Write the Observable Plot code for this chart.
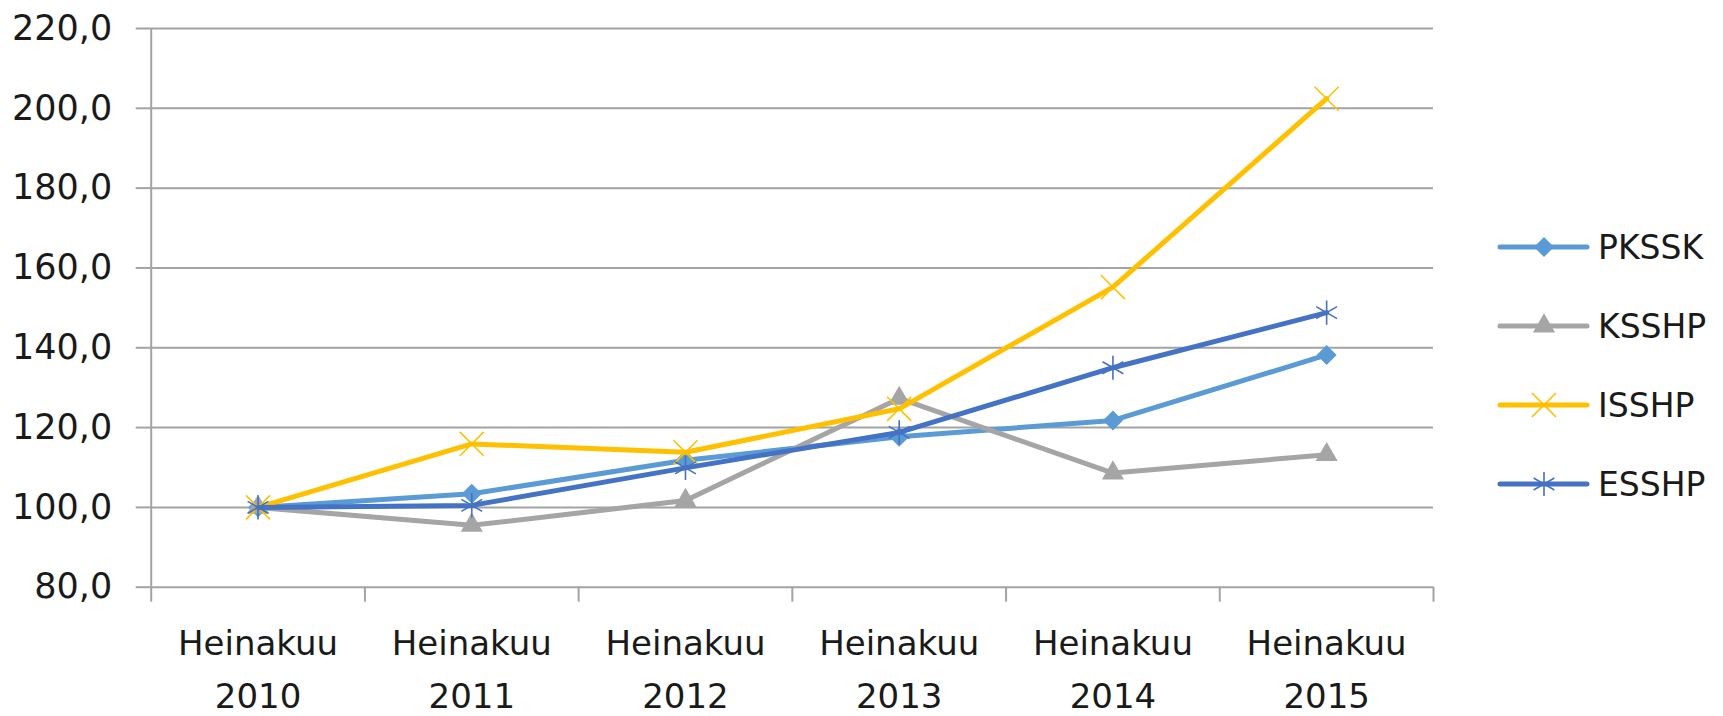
<!DOCTYPE html>
<html>
<head>
<meta charset="utf-8">
<script src="https://cdn.jsdelivr.net/npm/d3@7"></script>
<script src="https://cdn.jsdelivr.net/npm/@observablehq/plot@0.6"></script>
<style>
  body { margin: 0; background: #fff; }
  #wrap { position: relative; width: 1723px; height: 716px; overflow: hidden; }
  #chart { position: absolute; left: 0; top: 0; }
  #legend { position: absolute; left: 1490px; top: 207.5px; font-family: "DejaVu Sans", sans-serif; font-size: 33px; color: #1a1a1a; }
  .row { display: flex; align-items: center; height: 79px; }
</style>
</head>
<body>
<div id="wrap"><div id="chart"></div><div id="legend"></div></div>
<script>
const years = ["2010", "2011", "2012", "2013", "2014", "2015"];
const monthLabel = "Heinakuu";
const seriesNames = ["PKSSK", "KSSHP", "ISSHP", "ESSHP"];
const PKSSK = [100.0, 103.4, 111.8, 117.7, 121.8, 138.2];
const KSSHP = [100.0, 95.5, 101.7, 127.3, 108.6, 113.2];
const ISSHP = [100.0, 115.9, 113.8, 124.7, 155.2, 202.4];
const ESSHP = [100.0, 100.5, 109.9, 118.8, 135.0, 148.8];
const yTicks = [80, 100, 120, 140, 160, 180, 200, 220];

const seriesValues = [PKSSK, KSSHP, ISSHP, ESSHP];
const colors = ["#5B9BD5", "#A5A5A5", "#FFC000", "#4472C4"];
const symbols = ["diamond2", "triangle", "times", "asterisk"];
const radii = [9, 8.2, 11, 11.4];
const filled = [true, true, false, false];
const gridColor = "#a3a3a3";

const idx = years.map((_, i) => i);
const bounds = [-0.5, ...idx.map(i => i + 0.5)];
const fmt = d => d.toFixed(1).replace(".", ",");

const marks = [
  Plot.gridY(yTicks, {stroke: gridColor, strokeOpacity: 1, strokeWidth: 2}),
  Plot.ruleX([-0.5], {stroke: gridColor, strokeWidth: 2}),
  Plot.axisY(yTicks, {tickSize: 15, tickPadding: 24, stroke: gridColor, strokeWidth: 2, strokeOpacity: 1,
    fill: "#1a1a1a", fontSize: 35, tickFormat: fmt, label: null}),
  Plot.axisX(bounds, {tickSize: 15, stroke: gridColor, strokeWidth: 2, strokeOpacity: 1, tickFormat: () => "", label: null}),
  Plot.axisX(idx, {tickSize: 0, tickPadding: 30, fill: "#1a1a1a", fontSize: 34, lineHeight: 1.57,
    tickFormat: i => monthLabel + "\n" + years[i], label: null})
];

seriesNames.forEach((name, s) => {
  const rows = seriesValues[s].map((v, i) => ({i, v}));
  marks.push(Plot.line(rows, {x: "i", y: "v", stroke: colors[s], strokeWidth: 5, strokeLinejoin: "round", strokeLinecap: "round"}));
  if (filled[s]) {
    marks.push(Plot.dot(rows, {x: "i", y: "v", symbol: () => symbols[s], r: radii[s], fill: colors[s], stroke: "none"}));
  } else {
    marks.push(Plot.dot(rows, {x: "i", y: "v", symbol: () => symbols[s], r: radii[s], fill: "none", stroke: colors[s], strokeWidth: 1.6}));
  }
});

const chart = Plot.plot({
  width: 1490,
  height: 716,
  marginLeft: 150.7,
  marginRight: 57,
  marginTop: 28,
  marginBottom: 129.3,
  style: {fontFamily: "DejaVu Sans, sans-serif", background: "#fff", overflow: "visible"},
  x: {type: "linear", domain: [-0.5, years.length - 0.5]},
  y: {domain: [80, 220]},
  symbol: {type: "identity"},
  marks
});
document.getElementById("chart").appendChild(chart);

// legend
const d3sym = {diamond2: d3.symbolDiamond2, triangle: d3.symbolTriangle, times: d3.symbolTimes, asterisk: d3.symbolAsterisk};
const legend = d3.select("#legend");
seriesNames.forEach((name, s) => {
  const row = legend.append("div").attr("class", "row");
  const svg = row.append("svg").attr("width", 108).attr("height", 40);
  svg.append("line").attr("x1", 10).attr("x2", 97).attr("y1", 20).attr("y2", 20)
    .attr("stroke", colors[s]).attr("stroke-width", 5).attr("stroke-linecap", "round");
  const path = d3.symbol(d3sym[symbols[s]], Math.PI * radii[s] * radii[s])();
  const p = svg.append("path").attr("d", path).attr("transform", "translate(54,20)");
  if (filled[s]) p.attr("fill", colors[s]);
  else p.attr("fill", "none").attr("stroke", colors[s]).attr("stroke-width", 1.6);
  row.append("span").text(name);
});
</script>
</body>
</html>
